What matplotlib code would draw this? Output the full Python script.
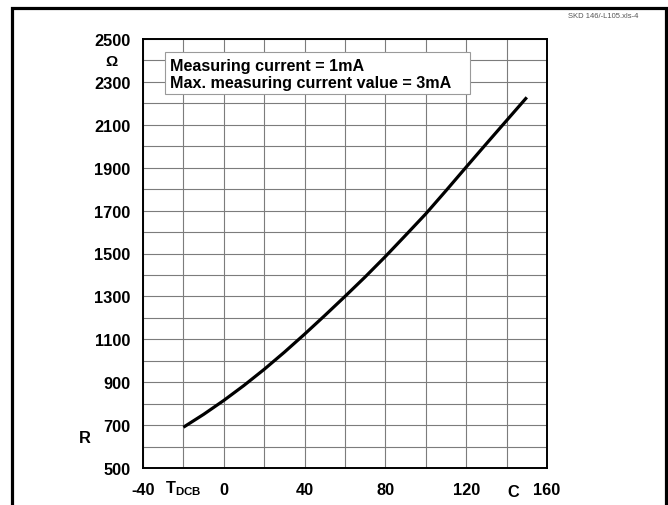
import numpy as np
import matplotlib.pyplot as plt
from matplotlib.patches import Rectangle

plt.rcParams['font.family'] = ['Liberation Sans', 'DejaVu Sans']
plt.rcParams['font.weight'] = 'bold'

# sensor resistance vs. temperature
temp_c = [-20, -10, 0, 10, 20, 30, 40, 50, 60, 70, 80, 90, 100, 110, 120, 130, 140, 150]
resistance_ohm = [690, 750, 815, 885, 960, 1040, 1124, 1211, 1300, 1391, 1486, 1585, 1685,
                  1793, 1903, 2012, 2120, 2228]

x_ticks = [-40, 0, 40, 80, 120, 160]
y_ticks = [500, 700, 900, 1100, 1300, 1500, 1700, 1900, 2100, 2300, 2500]
note_lines = ['Measuring current = 1mA', 'Max. measuring current value = 3mA']

fig = plt.figure(figsize=(6.68, 5.06), dpi=100)
ax = fig.add_axes([143 / 668, 1 - 469 / 506, 404 / 668, 429 / 506])

ax.plot(temp_c, resistance_ohm, color='black', lw=2.3, solid_capstyle='butt',
        solid_joinstyle='round', zorder=3)

ax.set_xlim(-40, 160)
ax.set_ylim(500, 2500)
ax.set_xticks(np.arange(-40, 161, 20), minor=True)
ax.set_yticks(np.arange(500, 2501, 100), minor=True)
ax.set_xticks(x_ticks)
ax.set_yticks(y_ticks)
ax.set_xticklabels([str(t) for t in x_ticks])
ax.set_yticklabels([str(t) for t in y_ticks])
ax.tick_params(which='both', length=0, labelsize=11.8)
ax.tick_params(axis='y', pad=9)
ax.tick_params(axis='x', pad=10)
ax.grid(which='both', color='#7c7c7c', lw=0.8)
ax.set_axisbelow(True)
for sp in ax.spines.values():
    sp.set_linewidth(1.4)
    sp.set_color('black')

# note box
box = Rectangle((-29, 2244), 151, 195, facecolor='white', edgecolor='#9a9a9a',
                lw=0.8, zorder=4)
ax.add_patch(box)
ax.text(-26.5, 2377, note_lines[0], fontsize=11.6, fontweight='bold', va='center', zorder=5)
ax.text(-26.5, 2298, note_lines[1], fontsize=11.6, fontweight='bold', va='center', zorder=5)

# axis labels
fig.text(112 / 668, 1 - 62 / 506, 'Ω', fontsize=11, fontweight='bold', ha='center', va='center')
fig.text(85 / 668, 1 - 439 / 506, 'R', fontsize=11.8, fontweight='bold', ha='center', va='center')
fig.text(165 / 668, 1 - 489 / 506, r'T$_{\mathregular{DCB}}$', fontsize=11.8,
         fontweight='bold', ha='left', va='center')
fig.text(513 / 668, 1 - 493 / 506, 'C', fontsize=11.8, fontweight='bold', ha='center', va='center')

fig.text(603 / 668, 1 - 17 / 506, 'SKD 146/-L105.xls-4', fontsize=5.5, fontweight='normal',
         color='#555555', ha='center', va='center')

# outer frame
fig.patches.append(Rectangle((12.5 / 668, -0.05), 653 / 668, 1.05 - 8.5 / 506,
                             transform=fig.transFigure, fill=False, edgecolor='black', lw=2.3))

fig.savefig('out.png', dpi=100)
